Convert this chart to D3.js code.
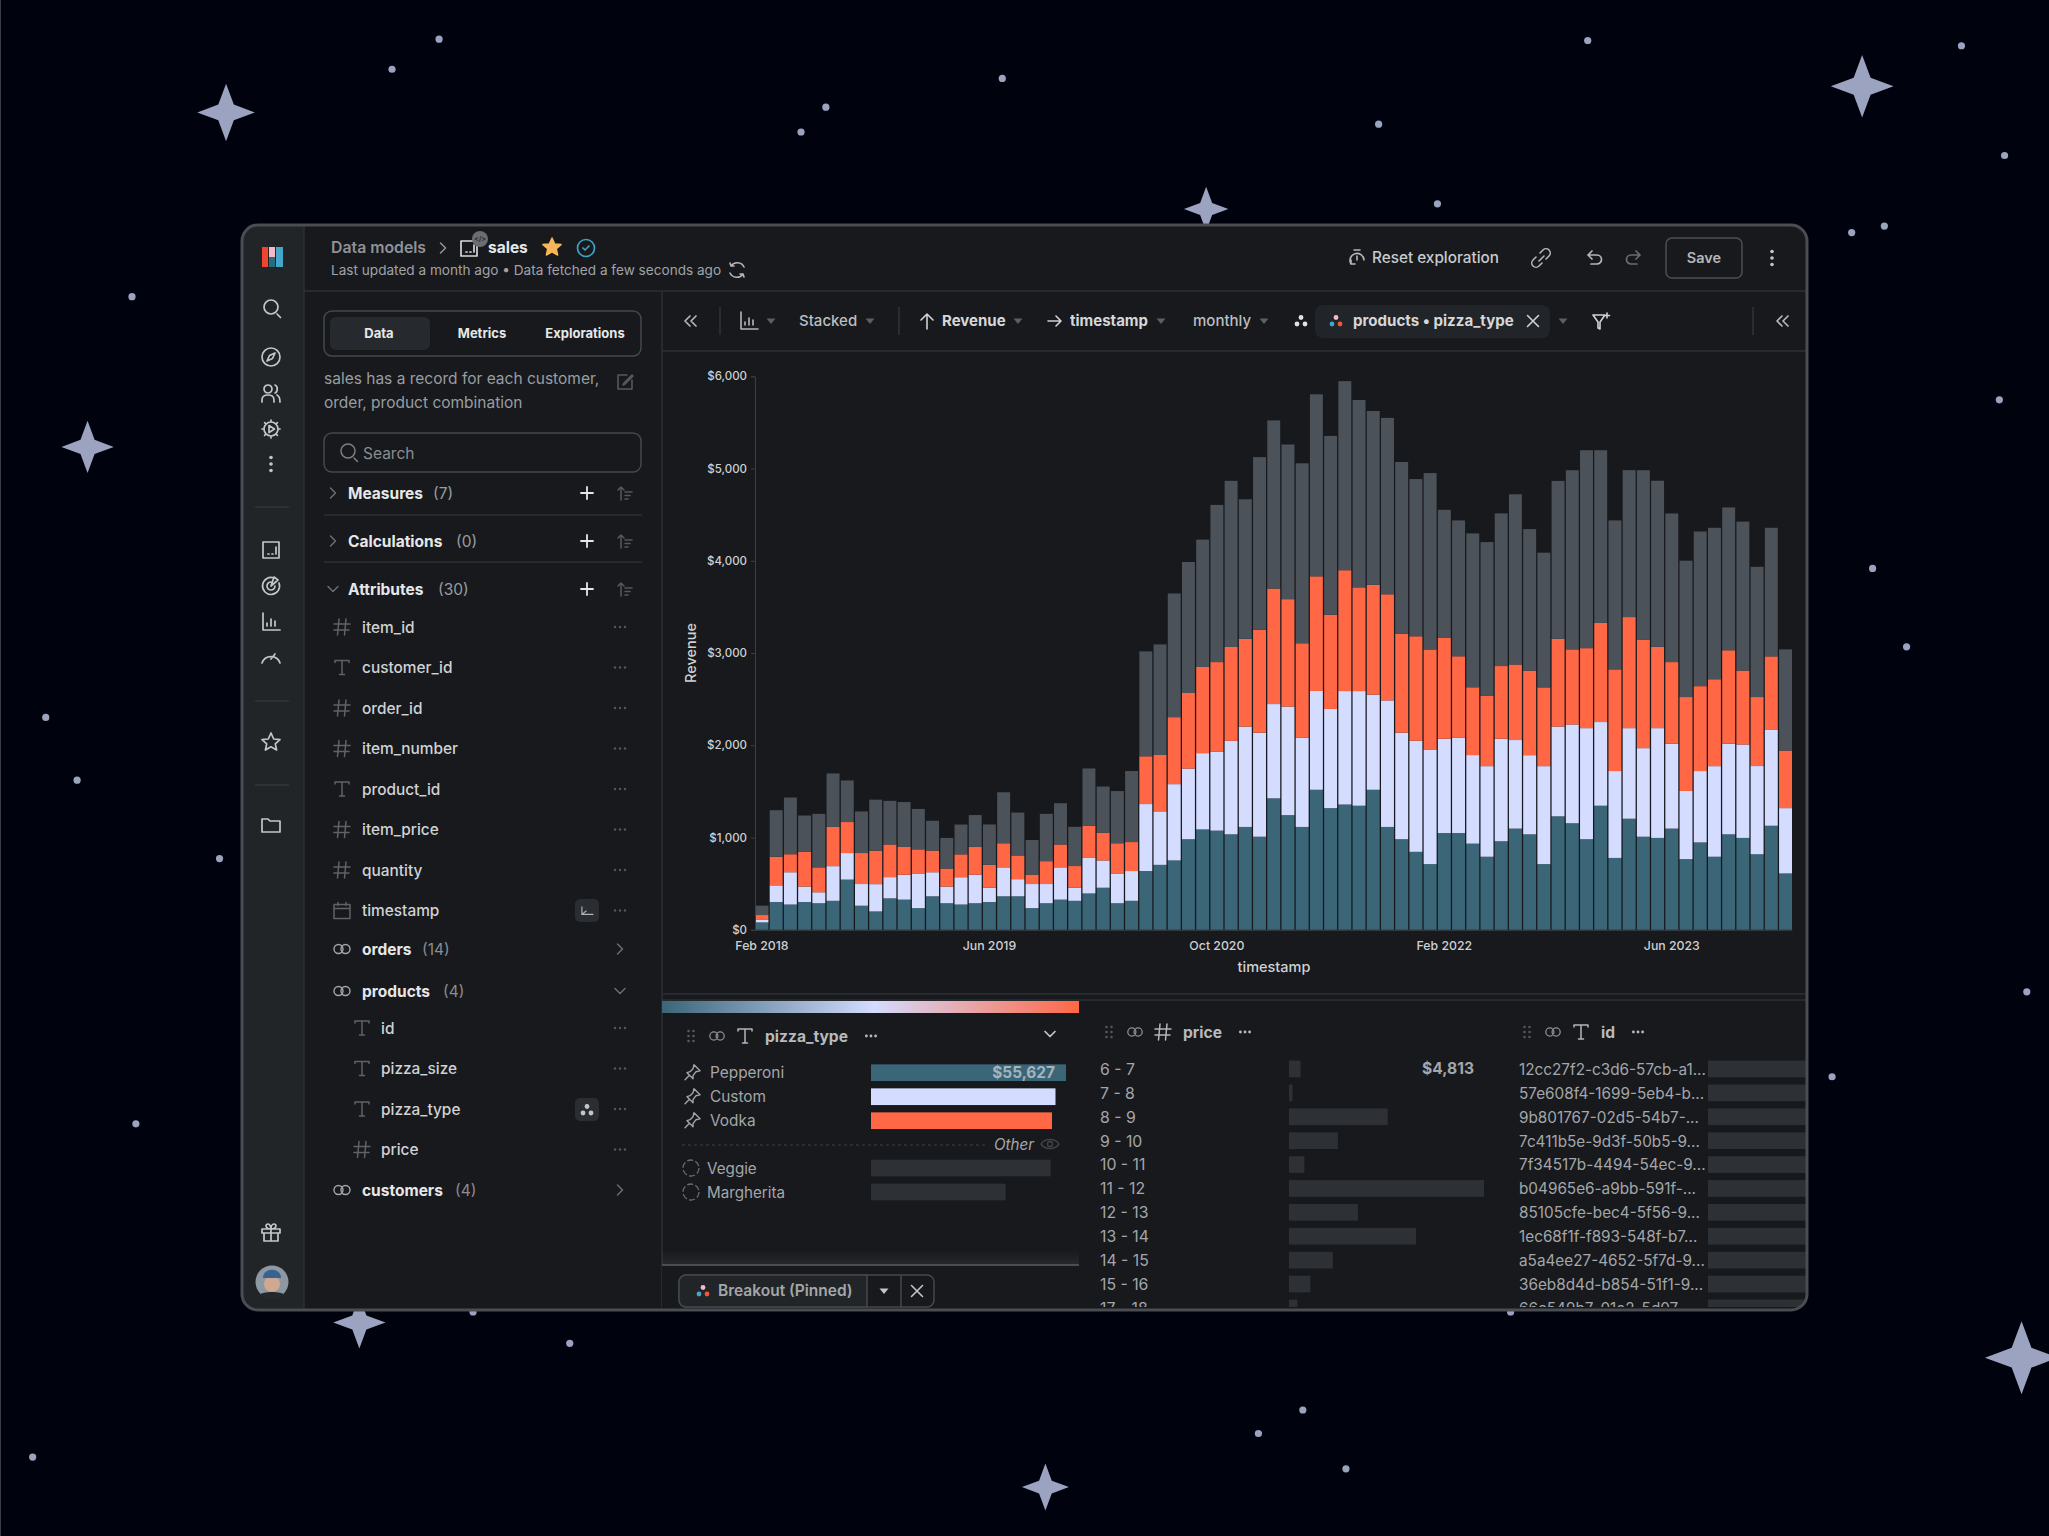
<!DOCTYPE html>
<html>
<head>
<meta charset="utf-8">
<title>sales exploration</title>
<script src="https://cdn.jsdelivr.net/npm/d3@7/dist/d3.min.js"></script>
<style>
  html, body { margin: 0; padding: 0; background: #00030e; }
  svg { display: block; }
  text { font-family: Inter, "Noto Sans", sans-serif; }
</style>
</head>
<body>
<div id="graph"></div>
<script>
//************************************ Part 0. Data ************************************//
var seriesNames = ["Pepperoni", "Custom", "Vodka", "Other"];
var pepperoni = [80,301,274,301,288,314,544,261,199,341,327,235,363,288,274,288,301,363,363,235,288,327,314,394,456,288,314,637,704,752,982,1088,1075,1035,1115,1009,1425,1243,1115,1518,1319,1358,1345,1518,1115,982,845,712,1049,1049,934,792,960,1097,1035,712,1230,1155,982,1345,779,1204,1009,996,1097,766,947,792,1035,996,819,1128,611];
var custom = [27,181,350,168,119,376,288,235,296,230,270,376,261,181,296,310,155,314,186,261,208,350,142,385,296,323,323,726,580,827,766,827,854,1013,1088,1128,1022,1177,969,1071,1075,1230,1243,1031,1372,1155,1204,1243,1022,1035,960,982,1111,960,858,1062,973,1071,1204,907,942,982,960,1190,920,739,774,982,982,1013,956,1044,708];
var vodka = [53,310,195,376,270,425,336,336,363,354,301,261,235,195,248,301,248,261,257,102,248,248,235,350,301,327,314,518,611,726,819,934,973,1018,951,1115,1252,1164,1022,1243,1022,1310,1124,1190,1150,1071,1133,1084,1097,881,735,761,788,819,916,854,951,814,867,1075,1102,1204,1177,881,885,1018,920,942,1013,801,748,792,624];
var other = [102,504,615,394,580,580,451,451,553,473,487,438,323,332,323,345,438,553,465,376,513,447,425,620,500,566,770,1137,1199,1341,1420,1381,1704,1801,1513,1872,1823,1677,1951,1973,1938,2049,2031,1885,1912,1863,1704,1912,1385,1473,1668,1668,1655,1845,1535,1460,1712,1942,2146,1872,1615,1593,1836,1801,1611,1478,1677,1642,1549,1615,1412,1394,1097];
var yTicks = [0, 1000, 2000, 3000, 4000, 5000, 6000];
var xTicks = [new Date(2018, 1, 1), new Date(2019, 5, 1), new Date(2020, 9, 1), new Date(2022, 1, 1), new Date(2023, 5, 1)];

var pinnedTypes = ["Pepperoni", "Custom", "Vodka"];
var pinnedValues = [55627, 52632, 51630];
var otherTypes = ["Veggie", "Margherita"];
var otherValues = [51263, 38425];

var priceBins = ["6 - 7","7 - 8","8 - 9","9 - 10","10 - 11","11 - 12","12 - 13","13 - 14","14 - 15","15 - 16","17 - 18"];
var priceValues = [4813,1450,40950,20290,6390,80900,28590,52700,18170,8880,3490];

var productIds = ["12cc27f2-c3d6-57cb-a1...","57e608f4-1699-5eb4-b...","9b801767-02d5-54b7-...","7c411b5e-9d3f-50b5-9...","7f34517b-4494-54ec-9...","b04965e6-a9bb-591f-...","85105cfe-bec4-5f56-9...","1ec68f1f-f893-548f-b7...","a5a4ee27-4652-5f7d-9...","36eb8d4d-b854-51f1-9...","66c549b7-01e2-5d07-..."];
var idValues = [60000,60000,60000,60000,60000,60000,60000,60000,60000,60000,60000];

var attributes = [
  {name: "item_id", type: "num"}, {name: "customer_id", type: "text"}, {name: "order_id", type: "num"},
  {name: "item_number", type: "num"}, {name: "product_id", type: "text"}, {name: "item_price", type: "num"},
  {name: "quantity", type: "num"}, {name: "timestamp", type: "cal"}
];
var productFields = [{name: "id", type: "text"}, {name: "pizza_size", type: "text"}, {name: "pizza_type", type: "text"}, {name: "price", type: "num"}];

// background decoration, in 1568 wide picture coordinates
var bgStars = [[173,86,22],[1425,66,24],[923,160,17],[67,342,20],[275,1012,20],[1547,1039,28],[800,1138,18]];
var bgDots = [[336,30],[300,53],[632,82],[613,101],[767,60],[1215,31],[1501,35],[1055,95],[1534,119],[1442,173],[1417,178],[1100,156],[101,227],[1530,306],[1433,435],[1459,495],[35,549],[59,597],[168,657],[1402,824],[1551,759],[104,860],[25,1115],[963,1097],[997,1079],[1030,1124],[436,1028],[362,1004],[1156,1004]];

//************************************ Part 1. Setup ************************************//
var width = 2049, height = 1536;
var bgScale = 2049 / 1568;
var panelBg = "#17191d", railBg = "#212528", lineCol = "#2c2f34", barMuted = "#2d3035";
var white = "#e6e7e8", soft = "#b4b6b9", mute = "#6a6d72";
var colors = d3.scaleOrdinal().domain(seriesNames).range(["#3a6678", "#d4dcff", "#ff6745", "#4c5259"]);

var svg = d3.select("#graph").append("svg").attr("width", width).attr("height", height);
var defs = svg.append("defs");

function txt(g, x, y, str, o) {
  o = o || {};
  return g.append("text").attr("x", x).attr("y", y).attr("dy", "0.42em").text(str)
    .attr("font-size", o.size || 14).attr("font-weight", o.weight || 400)
    .attr("fill", o.fill || soft).attr("text-anchor", o.anchor || "start")
    .attr("font-style", o.style || "normal");
}
function line(g, x1, y1, x2, y2, col, w) {
  return g.append("line").attr("x1", x1).attr("y1", y1).attr("x2", x2).attr("y2", y2)
    .attr("stroke", col || lineCol).attr("stroke-width", w || 1.5);
}
// stroked icons, drawn around 0,0
var iconPaths = {
  search: "M6,6L9.5,9.5M7,-1A7,7 0 1 1 -7,-1A7,7 0 1 1 7,-1",
  compass: "M9,0A9,9 0 1 1 -9,0A9,9 0 1 1 9,0M4,-4L1.5,1.5L-4,4L-1.5,-1.5Z",
  users: "M-9,9V7C-9,3 -6,2 -3,2C0,2 3,3 3,7V9M1,-4A4,4 0 1 1 -7,-4A4,4 0 1 1 1,-4M4,-8C7,-7 7,-1 4,0M6,2C8,3 9,5 9,9",
  gear: "M7,0A7,7 0 1 1 -7,0A7,7 0 1 1 7,0M-2,-3.5L3.5,0L-2,3.5ZM0,-9V-7M0,9V7M-9,0H-7M9,0H7M-6.4,-6.4L-5,-5M6.4,6.4L5,5M-6.4,6.4L-5,5M6.4,-6.4L5,-5",
  chartbox: "M-8,-8H8V8H-8ZM-3,4H-2M1,4H2M5,4V-3",
  target: "M3,-8A8.5,8.5 0 1 0 8,-3M4,0A4,4 0 1 1 0,-4M0,0L3,-9L7,-6Z",
  bars: "M-8,-9V8H9M-4,4V1M0,4V-3M4,4V-1",
  gauge: "M-9,6A9.5,9.5 0 0 1 9,6M0,2L4,-3",
  star: "M0,-9L2.7,-3L9,-2.4L4.3,1.8L5.6,8L0,4.8L-5.6,8L-4.3,1.8L-9,-2.4L-2.7,-3Z",
  folder: "M-9,-6H-3L-1,-4H9V7H-9Z",
  gift: "M-9,-4H9V0H-9ZM-7,0V8H7V0M0,-4V8M0,-4C-6,-4 -6,-9 -3,-9C-1,-9 0,-6 0,-4C0,-6 1,-9 3,-9C6,-9 6,-4 0,-4",
  docbox: "M-8,-7H8V8H-8ZM-3,4H-2M1,4H2M5,4V-3",
  check: "M8.5,0A8.5,8.5 0 1 1 -8.5,0A8.5,8.5 0 1 1 8.5,0M-3,0L-1,2L3,-2",
  refresh: "M7,-3A7.5,7.5 0 0 0 -6,-4L-7,-7M-7,3A7.5,7.5 0 0 0 6,4L7,7M-6,-4H-3M6,4H3",
  edit: "M2,-7H-7V7H7V-2M-1,1L7,-7L8,-6L0,2L-2,3Z",
  timer: "M7,1A7,7 0 1 0 -6,5M-3,-9H3M0,1V-3M-6,5V1M-6,5H-2",
  link: "M-2,3L3,-2M-1,-5L2,-8A3.5,3.5 0 0 1 8,-2L5,1M1,5L-2,8A3.5,3.5 0 0 1 -8,2L-5,-1",
  undo: "M-6,-2H3A4.5,4.5 0 0 1 3,7H-3M-6,-2L-2,-6M-6,-2L-2,2",
  redo: "M6,-2H-3A4.5,4.5 0 0 0 -3,7H3M6,-2L2,-6M6,-2L2,2",
  dleft: "M-1,-5L-6,0L-1,5M5,-5L0,0L5,5",
  up: "M0,8V-7M-6,-1L0,-7L6,-1",
  right: "M-7,0H6M1,-5L6,0L1,5",
  close: "M-5.5,-5.5L5.5,5.5M5.5,-5.5L-5.5,5.5",
  filter: "M-8,-6H4L-1,1V8L-3,7V1ZM6,-8V-3M3.5,-5.5H8.5",
  plus: "M-6,0H6M0,-6V6",
  sort: "M-4,7V-6M-7,-3L-4,-6L-1,-3M0,-1H7M0,2.5H5M0,6H3",
  num: "M-3,-8L-4.5,8M4,-8L2.5,8M-8,-3H8M-8,3H7",
  text: "M-7,-5V-7H7V-5M0,-7V7M-2.5,7H2.5",
  cal: "M-8,-6H8V8H-8ZM-8,-2H8M-4,-8V-5M4,-8V-5",
  joined: "M1,0A4.5,4.5 0 1 1 -8,0A4.5,4.5 0 1 1 1,0M8,0A4.5,4.5 0 1 1 -1,0A4.5,4.5 0 1 1 8,0",
  timeaxis: "M-6,-5V4H7M-6,4L-1,0",
  pin: "M2,-8L8,-2L4,-1L1,3L1,6L-5,0L-2,-1L1,-4ZM-3,3L-7,7",
  eye: "M-9,0C-5,-6 5,-6 9,0C5,6 -5,6 -9,0ZM2.5,0A2.5,2.5 0 1 1 -2.5,0A2.5,2.5 0 1 1 2.5,0",
  rightChev: "M-2.5,-5L2.5,0L-2.5,5",
  downChev: "M-5,-2.5L0,2.5L5,-2.5"
};
function icon(g, name, x, y, col, w, scale) {
  return g.append("path").attr("d", iconPaths[name])
    .attr("transform", "translate(" + x + "," + y + ") scale(" + (scale || 1) + ")")
    .attr("fill", "none").attr("stroke", col || soft).attr("stroke-width", w || 1.5)
    .attr("stroke-linecap", "round").attr("stroke-linejoin", "round");
}
function caret(g, x, y, col) {
  g.append("path").attr("d", "M" + (x - 4.5) + "," + (y - 2.5) + "h9l-4.5,5.5z").attr("fill", col || "#5c5f63");
}
function dots3(g, x, y, vertical, col, r, gap) {
  [-1, 0, 1].forEach(function(i) {
    g.append("circle").attr("cx", vertical ? x : x + i * (gap || 5)).attr("cy", vertical ? y + i * (gap || 6) : y)
      .attr("r", r || 1.2).attr("fill", col || "#55585c");
  });
}
function tripleDots(g, x, y, cols) {
  [[0, -3.5], [-4, 3], [4, 3]].forEach(function(p, i) {
    g.append("circle").attr("cx", x + p[0]).attr("cy", y + p[1]).attr("r", 2.4).attr("fill", cols[i]);
  });
}
function handle(g, x, y) {
  [-5, 0, 5].forEach(function(dy) {
    [-2.5, 2.5].forEach(function(dx) {
      g.append("circle").attr("cx", x + dx).attr("cy", y + dy).attr("r", 1.3).attr("fill", "#55585c");
    });
  });
}

//************************************ Part 2. Night sky ************************************//
var sky = svg.append("g");
sky.append("rect").attr("x", 0).attr("y", 0).attr("width", 1).attr("height", height).attr("fill", "#3a3d44");
sky.selectAll("circle").data(bgDots).enter().append("circle")
  .attr("cx", function(d) { return d[0] * bgScale; }).attr("cy", function(d) { return d[1] * bgScale; })
  .attr("r", 3.6).attr("fill", "#9ba3c1");
sky.selectAll("path.star").data(bgStars).enter().append("path").attr("class", "star")
  .attr("transform", function(d) { return "translate(" + d[0] * bgScale + "," + d[1] * bgScale + ")"; })
  .attr("d", function(d) {
    var r = d[2] * bgScale, a = r * 0.27;
    return "M0," + -r + "L" + a + "," + -a + "L" + r + ",0L" + a + "," + a + "L0," + r + "L" + -a + "," + a + "L" + -r + ",0L" + -a + "," + -a + "Z";
  }).attr("fill", "#9ba3c1");

//************************************ Part 3. App frame ************************************//
var fx = 242, fy = 225, fw = 1565, fh = 1085;
defs.append("clipPath").attr("id", "frameClip").append("rect")
  .attr("x", fx).attr("y", fy).attr("width", fw).attr("height", fh).attr("rx", 16);
var app = svg.append("g").attr("clip-path", "url(#frameClip)");
app.append("rect").attr("x", fx).attr("y", fy).attr("width", fw).attr("height", fh).attr("fill", panelBg);
app.append("rect").attr("x", fx).attr("y", fy).attr("width", 62).attr("height", fh).attr("fill", railBg);
line(app, 304, fy, 304, fy + fh, lineCol);
line(app, 304, 291, 1807, 291, lineCol);
line(app, 662, 291, 662, 1310, lineCol);
line(app, 662, 351, 1807, 351, lineCol);
line(app, 662, 994, 1807, 994, lineCol);
line(app, 662, 1000, 1807, 1000, lineCol);

//rail
app.append("rect").attr("x", 262).attr("y", 247).attr("width", 6).attr("height", 20).attr("fill", "#f1442e");
app.append("rect").attr("x", 269).attr("y", 247).attr("width", 6).attr("height", 10).attr("fill", "#f6b8c4");
app.append("rect").attr("x", 269).attr("y", 257).attr("width", 6).attr("height", 10).attr("fill", "#2a6a7e");
app.append("rect").attr("x", 276).attr("y", 247).attr("width", 7).attr("height", 20).attr("fill", "#43a7c9");
[["search",308],["compass",357],["users",393],["gear",429],["chartbox",550],["target",586],["bars",622],["gauge",657],["star",742],["folder",825],["gift",1233]]
  .forEach(function(d) { icon(app, d[0], 271, d[1], "#c4c6c9", 1.7); });
dots3(app, 271, 464, true, "#c4c6c9", 1.8, 6.5);
[507, 701, 785].forEach(function(y) { line(app, 255, y, 289, y, "#33373b"); });
app.append("circle").attr("cx", 272).attr("cy", 1282).attr("r", 16.5).attr("fill", "#8d98a2");
app.append("circle").attr("cx", 272).attr("cy", 1284).attr("r", 8).attr("fill", "#cfa88f");
app.append("path").attr("d", "M263,1278C263,1267 281,1267 281,1278Z").attr("fill", "#35628f");
app.append("path").attr("d", "M259,1295C262,1291 282,1291 285,1295C280,1301 264,1301 259,1295Z").attr("fill", "#23282d");

//header
txt(app, 331, 246.5, "Data models", {size: 15.8, weight: 600, fill: "#8f9296"});
icon(app, "rightChev", 443, 248, "#8f9296", 1.6);
icon(app, "docbox", 469, 248, "#d8d9da", 1.7);
app.append("circle").attr("cx", 480).attr("cy", 239).attr("r", 8).attr("fill", "#6a6d71");
txt(app, 480, 238, "</>", {size: 7, weight: 700, fill: "#2f3134", anchor: "middle"});
txt(app, 488, 246.5, "sales", {size: 15.5, weight: 700, fill: white});
icon(app, "star", 552, 247, "#f7b758", 1.5).attr("fill", "#f7b758");
icon(app, "check", 586, 248, "#3fa3c4", 1.7);
txt(app, 331, 269.5, "Last updated a month ago  •  Data fetched a few seconds ago", {size: 13.6, fill: "#a0a3a7"});
icon(app, "refresh", 737, 270, "#b4b6b9", 1.6);

icon(app, "timer", 1357, 259, soft, 1.6);
txt(app, 1372, 257, "Reset exploration", {size: 15.3, weight: 500, fill: "#c8cacc"});
icon(app, "link", 1541, 258, soft, 1.6);
icon(app, "undo", 1594, 257, soft, 1.7);
icon(app, "redo", 1634, 257, "#6a6d72", 1.7);
app.append("rect").attr("x", 1666).attr("y", 238).attr("width", 76).attr("height", 40).attr("rx", 6)
  .attr("fill", "none").attr("stroke", "#4b4e53").attr("stroke-width", 1.5);
txt(app, 1704, 257, "Save", {size: 14.5, weight: 600, fill: "#b4b6b9", anchor: "middle"});
dots3(app, 1772, 258, true, "#c4c6c9", 1.8, 6.5);

//toolbar
var tbY = 321;
var tbText = tbY - 1;
icon(app, "dleft", 691, tbY, soft, 1.7);
line(app, 720, 307, 720, 335, "#303338");
icon(app, "bars", 749, tbY, soft, 1.6);
caret(app, 771, tbY);
txt(app, 799, tbText, "Stacked", {size: 15, fill: "#bcbec1", weight: 500});
caret(app, 870, tbY);
line(app, 899, 307, 899, 335, "#303338");
icon(app, "up", 927, tbY, "#d0d2d4", 1.6);
txt(app, 942, tbText, "Revenue", {size: 15, weight: 700, fill: "#d6d7d9"});
caret(app, 1018, tbY);
icon(app, "right", 1055, tbY, "#d0d2d4", 1.6);
txt(app, 1070, tbText, "timestamp", {size: 15, weight: 700, fill: "#d6d7d9"});
caret(app, 1161, tbY);
txt(app, 1193, tbText, "monthly", {size: 15, fill: "#bcbec1", weight: 500});
caret(app, 1264, tbY);
tripleDots(app, 1301, tbY, ["#e0e1e2", "#e0e1e2", "#e0e1e2"]);
app.append("rect").attr("x", 1315).attr("y", 305).attr("width", 235).attr("height", 33).attr("rx", 8).attr("fill", "#212428");
tripleDots(app, 1336, tbY, ["#f6b8c4", "#43a7c9", "#f1553a"]);
txt(app, 1353, tbText, "products • pizza_type", {size: 15.1, weight: 700, fill: "#d6d7d9"});
icon(app, "close", 1533, tbY, "#d0d2d4", 1.6);
caret(app, 1563, tbY);
icon(app, "filter", 1601, tbY, "#d0d2d4", 1.6);
line(app, 1753, 307, 1753, 335, "#303338");
icon(app, "dleft", 1783, tbY, soft, 1.7);

//************************************ Part 4. Left panel ************************************//
var boxStroke = "#44474c";
app.append("rect").attr("x", 324).attr("y", 311).attr("width", 317).attr("height", 45).attr("rx", 8)
  .attr("fill", "none").attr("stroke", boxStroke).attr("stroke-width", 1.5);
app.append("rect").attr("x", 330).attr("y", 317).attr("width", 100).attr("height", 33).attr("rx", 6).attr("fill", "#262a2e");
[["Data",379],["Metrics",482],["Explorations",585]].forEach(function(d) {
  txt(app, d[1], 333, d[0], {size: 13, weight: 700, fill: white, anchor: "middle"});
});
txt(app, 324, 377, "sales has a record for each customer,", {size: 15.5, fill: "#9a9da0"});
txt(app, 324, 401, "order, product combination", {size: 15.5, fill: "#9a9da0"});
icon(app, "edit", 625, 382, "#55585c", 1.6);
app.append("rect").attr("x", 324).attr("y", 433).attr("width", 317).attr("height", 39).attr("rx", 8)
  .attr("fill", "none").attr("stroke", boxStroke).attr("stroke-width", 1.5);
icon(app, "search", 348, 452, "#7b7e82", 1.5);
txt(app, 363, 452, "Search", {size: 15.5, fill: "#8a8d90"});

[{name: "Measures", n: "(7)", y: 493, nx: 433, open: false},
 {name: "Calculations", n: "(0)", y: 541, nx: 456, open: false},
 {name: "Attributes", n: "(30)", y: 589, nx: 438, open: true}].forEach(function(s) {
  icon(app, s.open ? "downChev" : "rightChev", 333, s.y, "#6a6d72", 1.5);
  txt(app, 348, s.y - 1, s.name, {size: 15.5, weight: 700, fill: white});
  txt(app, s.nx, s.y - 1, s.n, {size: 15.5, fill: "#9a9da0"});
  icon(app, "plus", 587, s.y, white, 1.8);
  icon(app, "sort", 625, s.y, "#55585c", 1.5);
});
line(app, 324, 515, 642, 515);
line(app, 324, 562, 642, 562);

var rowStep = 40.5;
attributes.forEach(function(d, i) {
  var y = 627 + i * rowStep;
  icon(app, d.type, 342, y, "#5f6266", 1.5);
  txt(app, 362, y - 0.5, d.name, {size: 15.4, weight: 500, fill: "#d0d2d4"});
  dots3(app, 620, y);
});
app.append("rect").attr("x", 575).attr("y", 899).attr("width", 24).attr("height", 23).attr("rx", 5).attr("fill", "#2a2d31");
icon(app, "timeaxis", 587, 911, "#b4b6b9", 1.3, 0.85);
[{name: "orders", n: "(14)", y: 949, nx: 422, open: false},
 {name: "products", n: "(4)", y: 991, nx: 443, open: true},
 {name: "customers", n: "(4)", y: 1190, nx: 455, open: false}].forEach(function(s) {
  icon(app, "joined", 342, s.y, "#a4a6a9", 1.4);
  txt(app, 362, s.y - 1, s.name, {size: 15.5, weight: 700, fill: white});
  txt(app, s.nx, s.y - 1, s.n, {size: 15.5, fill: "#8a8d90"});
  icon(app, s.open ? "downChev" : "rightChev", 620, s.y, "#6a6d72", 1.5);
});
productFields.forEach(function(d, i) {
  var y = 1028 + i * rowStep;
  icon(app, d.type, 362, y, "#5f6266", 1.5);
  txt(app, 381, y - 0.5, d.name, {size: 15.4, weight: 500, fill: "#d0d2d4"});
  dots3(app, 620, y);
});
app.append("rect").attr("x", 575).attr("y", 1098).attr("width", 24).attr("height", 23).attr("rx", 5).attr("fill", "#2a2d31");
tripleDots(app, 587, 1110, ["#c4c6c9", "#c4c6c9", "#c4c6c9"]);

//************************************ Part 5. Stacked bar chart ************************************//
var months = d3.timeMonth.range(new Date(2018, 1, 1), new Date(2024, 2, 1));
var rows = months.map(function(m, i) {
  return {month: m, Pepperoni: pepperoni[i], Custom: custom[i], Vodka: vodka[i], Other: other[i]};
});
var x = d3.scaleBand().domain(months).range([755.5, 1792]).paddingInner(0.09).paddingOuter(0);
var y = d3.scaleLinear().domain([0, 6000]).range([929.8, 376.3]);
var stacked = d3.stack().keys(seriesNames)(rows);
var chart = app.append("g");

chart.selectAll("g.layer").data(stacked).enter().append("g").attr("class", "layer")
  .attr("fill", function(d) { return colors(d.key); })
  .selectAll("rect").data(function(d) { return d; }).enter().append("rect")
  .attr("x", function(d) { return x(d.data.month); })
  .attr("width", x.bandwidth())
  .attr("y", function(d) { return y(d[1]); })
  .attr("height", function(d) { return y(d[0]) - y(d[1]); });

var yAxis = chart.append("g").attr("transform", "translate(755,0)")
  .call(d3.axisLeft(y).tickValues(yTicks).tickSize(4).tickPadding(4).tickFormat(function(d) { return "$" + d3.format(",")(d); }));
var xAxis = chart.append("g").attr("transform", "translate(0,929.8)")
  .call(d3.axisBottom(x).tickValues(xTicks).tickSize(0).tickPadding(11).tickFormat(d3.timeFormat("%b %Y")));
xAxis.select(".domain").attr("stroke", "#3b3e43");
yAxis.selectAll("path.domain, line").attr("stroke", "#3b3e43");
xAxis.selectAll(".tick text").attr("fill", "#cfd0d2").attr("font-size", 12.3).attr("font-weight", 500).attr("font-family", "Inter");
yAxis.selectAll(".tick text").attr("fill", "#cfd0d2").attr("font-size", 11.5).attr("font-weight", 500).attr("font-family", "Inter");
txt(chart, 1274, 966, "timestamp", {size: 14.5, weight: 500, fill: "#cfd0d2", anchor: "middle"});
txt(chart, 0, 0, "Revenue", {size: 14.5, weight: 500, fill: "#cfd0d2", anchor: "middle"})
  .attr("transform", "translate(689.5,653) rotate(-90)");

//************************************ Part 6. Bottom panels ************************************//
var gradient = defs.append("linearGradient").attr("id", "legendGrad");
[[0, "#3a6678"], [0.51, "#d4dcff"], [1, "#ff6745"]].forEach(function(s) {
  gradient.append("stop").attr("offset", s[0]).attr("stop-color", s[1]);
});
app.append("rect").attr("x", 662).attr("y", 1001).attr("width", 417).attr("height", 12).attr("fill", "url(#legendGrad)");

defs.append("clipPath").attr("id", "lowerClip").append("rect").attr("x", 662).attr("y", 1002).attr("width", 1145).attr("height", 305);
var lower = app.append("g").attr("clip-path", "url(#lowerClip)");

function colHead(hx, hy, type, name, nameX, dotsX) {
  handle(lower, hx, hy);
  icon(lower, "joined", hx + 26, hy, "#8f9296", 1.4, 0.9);
  icon(lower, type, hx + 54, hy, "#b4b6b9", 1.5);
  txt(lower, nameX, hy - 1, name, {size: 15.6, weight: 700, fill: "#b8babd"});
  dots3(lower, dotsX, hy, false, "#b8babd", 1.4, 4.6);
}
colHead(691, 1036, "text", "pizza_type", 765, 871);
icon(lower, "downChev", 1050, 1034, "#c4c6c9", 1.7);
colHead(1109, 1032, "num", "price", 1183, 1245);
colHead(1527, 1032, "text", "id", 1601, 1638);

var pizzaW = d3.scaleLinear().domain([0, 55627]).range([0, 195]);
var pinnedY = d3.scaleBand().domain(pinnedTypes).range([1060.7, 1132.7]);
var otherY = d3.scaleBand().domain(otherTypes).range([1156, 1204]);
var barH = 16.7;

lower.selectAll("rect.pinned").data(pinnedTypes).enter().append("rect").attr("class", "pinned")
  .attr("x", 871).attr("width", function(d, i) { return pizzaW(pinnedValues[i]); })
  .attr("y", function(d) { return pinnedY(d) + (pinnedY.bandwidth() - barH) / 2; }).attr("height", barH)
  .attr("fill", function(d) { return colors(d); });
pinnedTypes.forEach(function(d) {
  var cy = pinnedY(d) + pinnedY.bandwidth() / 2;
  icon(lower, "pin", 692, cy, "#a4a6a9", 1.4);
  txt(lower, 710, cy - 0.7, d, {size: 15.4, fill: "#a4a6a9"});
});
txt(lower, 1055, 1071.3, "$" + d3.format(",")(pinnedValues[0]), {size: 15.4, weight: 700, fill: "#a5b3ba", anchor: "end"});

line(lower, 682, 1145, 988, 1145, "#3b3e43", 1).attr("stroke-dasharray", "3 3");
txt(lower, 994, 1144, "Other", {size: 15.2, style: "italic", fill: "#a4a6a9"});
icon(lower, "eye", 1050, 1144, "#3f4246", 1.4);

lower.selectAll("rect.others").data(otherTypes).enter().append("rect").attr("class", "others")
  .attr("x", 871).attr("width", function(d, i) { return pizzaW(otherValues[i]); })
  .attr("y", function(d) { return otherY(d) + (otherY.bandwidth() - barH) / 2; }).attr("height", barH)
  .attr("fill", barMuted);
otherTypes.forEach(function(d) {
  var cy = otherY(d) + otherY.bandwidth() / 2;
  lower.append("circle").attr("cx", 691).attr("cy", cy).attr("r", 8).attr("fill", "none")
    .attr("stroke", "#6a6d72").attr("stroke-width", 1.3).attr("stroke-dasharray", "6 2.4");
  txt(lower, 707, cy - 0.5, d, {size: 15.2, fill: "#a4a6a9"});
});

//price histogram
var priceW = d3.scaleLinear().domain([0, 80900]).range([0, 195]);
var priceY = d3.scaleBand().domain(priceBins).range([1057, 1057 + 23.9 * priceBins.length]);
lower.selectAll("rect.price").data(priceBins).enter().append("rect").attr("class", "price")
  .attr("x", 1289).attr("width", function(d, i) { return priceW(priceValues[i]); })
  .attr("y", function(d) { return priceY(d) + (priceY.bandwidth() - barH) / 2; }).attr("height", barH)
  .attr("fill", barMuted);
lower.selectAll("text.bin").data(priceBins).enter().append("text").attr("class", "bin")
  .attr("x", 1100).attr("y", function(d) { return priceY(d) + priceY.bandwidth() / 2 - 0.7; }).attr("dy", "0.42em")
  .attr("font-size", 15.8).attr("fill", "#a4a6a9").text(function(d) { return d; });
txt(lower, 1474, 1067.5, "$" + d3.format(",")(priceValues[0]), {size: 15.6, weight: 700, fill: "#a4a6a9", anchor: "end"});

//id column
var idW = d3.scaleLinear().domain([0, 80900]).range([0, 195]);
var idY = d3.scaleBand().domain(productIds).range([1057, 1057 + 23.9 * productIds.length]);
lower.selectAll("rect.idbar").data(productIds).enter().append("rect").attr("class", "idbar")
  .attr("x", 1708).attr("width", function(d, i) { return idW(idValues[i]); })
  .attr("y", function(d) { return idY(d) + (idY.bandwidth() - barH) / 2; }).attr("height", barH)
  .attr("fill", barMuted);
lower.selectAll("text.pid").data(productIds).enter().append("text").attr("class", "pid")
  .attr("x", 1519).attr("y", function(d) { return idY(d) + idY.bandwidth() / 2 - 0.5; }).attr("dy", "0.42em")
  .attr("font-size", 15.3).attr("fill", "#a4a6a9").text(function(d) { return d; });

//breakout pill
var fade = defs.append("linearGradient").attr("id", "fadeUp").attr("x1", 0).attr("y1", 0).attr("x2", 0).attr("y2", 1);
fade.append("stop").attr("offset", 0).attr("stop-color", "#fff").attr("stop-opacity", 0);
fade.append("stop").attr("offset", 1).attr("stop-color", "#fff").attr("stop-opacity", 0.07);
app.append("rect").attr("x", 662).attr("y", 1250).attr("width", 417).attr("height", 15).attr("fill", "url(#fadeUp)");
app.append("rect").attr("x", 662).attr("y", 1265).attr("width", 417).attr("height", 45).attr("fill", panelBg);
line(app, 662, 1265, 1079, 1265, "#5a5d60", 1.5);
app.append("rect").attr("x", 679).attr("y", 1275).attr("width", 255).attr("height", 32).attr("rx", 7)
  .attr("fill", "none").attr("stroke", "#44474c").attr("stroke-width", 1.5);
app.append("path").attr("d", "M867,1275H686a7,7 0 0 0 -7,7V1300a7,7 0 0 0 7,7H867Z").attr("fill", "#212528").attr("stroke", "#44474c").attr("stroke-width", 1.5);
line(app, 901, 1275, 901, 1307, "#44474c");
tripleDots(app, 703, 1291, ["#f6b8c4", "#43a7c9", "#f1553a"]);
txt(app, 718, 1289.5, "Breakout (Pinned)", {size: 15.5, weight: 600, fill: "#a4a6a9"});
caret(app, 884, 1291, "#c4c6c9");
icon(app, "close", 917, 1291, "#c4c6c9", 1.6);

//frame on top
svg.append("rect").attr("x", fx).attr("y", fy).attr("width", fw).attr("height", fh).attr("rx", 16)
  .attr("fill", "none").attr("stroke", "#4a4d52").attr("stroke-width", 3);
</script>
</body>
</html>
